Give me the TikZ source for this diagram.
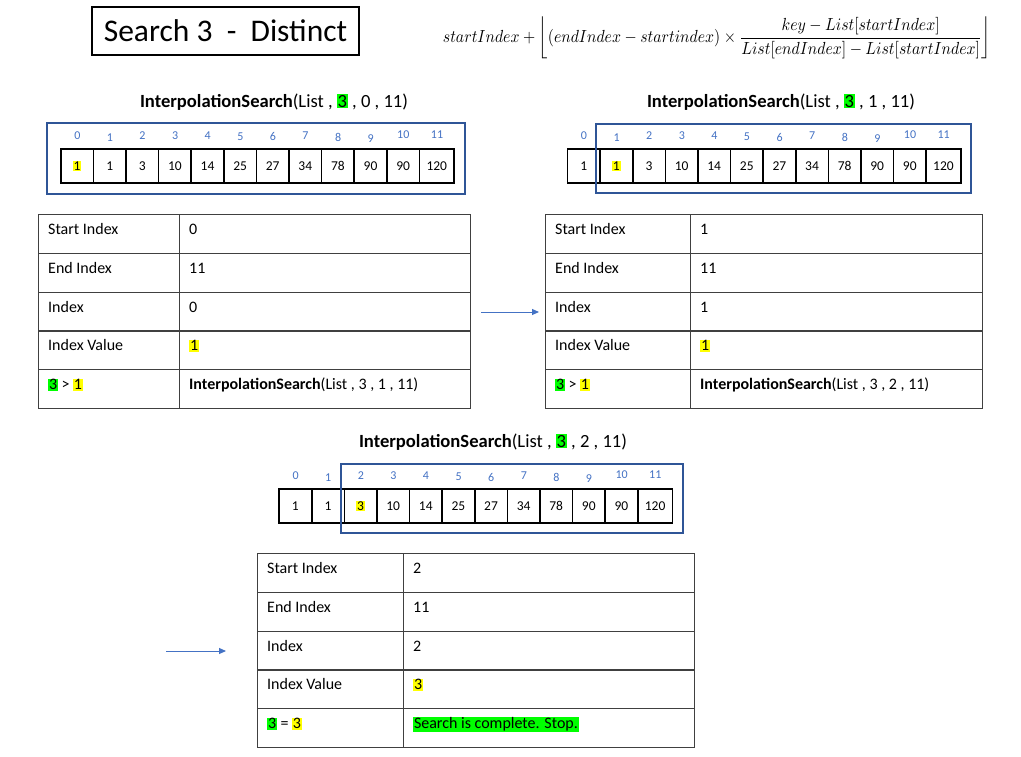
\documentclass[tikz,border=0pt]{standalone}
\usepackage{fontspec}
\setmainfont{Carlito}
\usepackage{amsmath}
\usepackage{graphicx}
\usetikzlibrary{arrows.meta,calc}

\definecolor{idxblue}{HTML}{4472C4}
\definecolor{frameblue}{HTML}{2F5597}
\definecolor{hlgreen}{HTML}{00FF00}
\definecolor{hlyellow}{HTML}{FFFF00}
\definecolor{gridgray}{HTML}{404040}

% highlighted text
\newcommand{\hly}[1]{{\setlength{\fboxsep}{0.8pt}\colorbox{hlyellow}{#1}}}
\newcommand{\hlg}[1]{{\setlength{\fboxsep}{0.8pt}\colorbox{hlgreen}{#1}}}
\newcommand{\isearch}[3]{\textbf{InterpolationSearch}(List , #1 , #2 , #3)}

\tikzset{
  titlebox/.style={draw, line width=1.6pt, minimum width=267pt, minimum height=48pt,
    inner sep=0pt, font=\fontsize{31.5}{36}\selectfont},
  calltitle/.style={anchor=base, inner sep=0pt, font=\fontsize{18.6}{22}\selectfont},
  cellbox/.style={draw, line width=1.6pt, minimum height=34pt, inner sep=0pt,
    anchor=north west, font=\fontsize{13.5}{16}\selectfont},
  idxlabel/.style={inner sep=0pt, text=idxblue, font=\fontsize{12}{14}\selectfont},
  rangebox/.style={draw=frameblue, line width=1.6pt},
  tcell/.style={draw=gridgray, line width=1.2pt, minimum height=38.8pt, inner sep=0pt,
    anchor=north west},
  ttext/.style={anchor=base west, inner sep=0pt, font=\fontsize{16}{19}\selectfont},
  flow/.style={draw=idxblue, line width=1pt, -{Triangle[length=7pt,width=6pt]}},
}

% one row of the list: #1 name prefix, #2 left x, #3 top y, #4 highlighted index
\newcommand{\listrow}[4]{%
  \foreach \v [count=\i from 0] in {1,1,3,10,14,25,27,34,78,90,90,120}{
    \pgfmathsetmacro\cx{#2+\i*32.6}
    \pgfmathsetmacro\cw{ifthenelse(\i==11,34.8,32.6)}
    \pgfmathsetmacro\dy{{0,2.5,0.5,0,0,1,1.5,0.5,2,3,-0.5,-0.5}[\i]}
    \node[cellbox, minimum width=\cw pt] (#1c\i) at (\cx,#3)
      {\ifnum\i=#4 \hly{\v}\else\v\fi};
    \node[idxlabel] (#1n\i) at (\cx+\cw/2+1,#3-12.8+\dy) {\i};
  }%
}

% a five-row table: #1 prefix, #2 left x, #3 divider x, #4 right x, #5 top y, #6 rows
\newcommand{\infotable}[6]{%
  \foreach \lt/\rt [count=\k from 0] in {#6}{
    \pgfmathsetmacro\ry{#5+\k*38.8}
    \node[tcell, minimum width={#3-#2}] (#1l\k) at (#2,\ry) {};
    \node[tcell, minimum width={#4-#3}] (#1r\k) at (#3,\ry) {};
    \node[ttext] (#1lt\k) at ($(#1l\k.north west)+(10,20.5)$) {\lt};
    \node[ttext] (#1rt\k) at ($(#1r\k.north west)+(10,20.5)$) {\rt};
  }%
}

\begin{document}
\begin{tikzpicture}[x=1pt,y=-1pt]
  \fill[white] (0,0) rectangle (1021,756);
  \path[use as bounding box] (0,0) rectangle (1021,756);

  % heading and formula
  \node[titlebox] (maintitle) at (225.5,31) {Search 3\ \ -\ \ Distinct};
  \node[inner sep=0pt] (formula) at (717,38) {\resizebox*{548pt}{42pt}{$\displaystyle
    startIndex+\left\lfloor(endIndex-startindex)\times
    \frac{key-List[startIndex]}{List[endIndex]-List[startIndex]}\right\rfloor$}};

  % first call
  \node[calltitle] (ttl1) at (274,107) {\isearch{\hlg{3}}{0}{11}};
  \listrow{a}{60}{148}{0}
  \draw[rangebox] (47,123) rectangle (465,194);
  \infotable{p}{38}{179}{470}{214}{%
    Start Index/0, End Index/11, Index/0, Index Value/\hly{1},
    {\hlg{3} > \hly{1}}/{\isearch{3}{1}{11}}}

  % second call
  \node[calltitle] (ttl2) at (781,107) {\isearch{\hlg{3}}{1}{11}};
  \listrow{b}{566.7}{148.3}{1}
  \draw[rangebox] (596,124) rectangle (971,193);
  \infotable{q}{545}{690}{982}{214}{%
    Start Index/1, End Index/11, Index/1, Index Value/\hly{1},
    {\hlg{3} > \hly{1}}/{\isearch{3}{2}{11}}}

  % third call
  \node[calltitle] (ttl3) at (493,447) {\isearch{\hlg{3}}{2}{11}};
  \listrow{c}{278.3}{488.3}{2}
  \draw[rangebox] (341,464) rectangle (683,533);
  \infotable{r}{257}{403}{694}{553}{%
    Start Index/2, End Index/11, Index/2, Index Value/\hly{3},
    {\hlg{3} = \hly{3}}/{\hlg{Search is complete. Stop.}}}

  % flow arrows
  \coordinate (f1s) at (481,312);
  \coordinate (f1e) at (539,312);
  \draw[flow] (f1s) -- (f1e);
  \coordinate (f2s) at (166,651);
  \coordinate (f2e) at (226,651);
  \draw[flow] (f2s) -- (f2e);
\end{tikzpicture}
\end{document}
